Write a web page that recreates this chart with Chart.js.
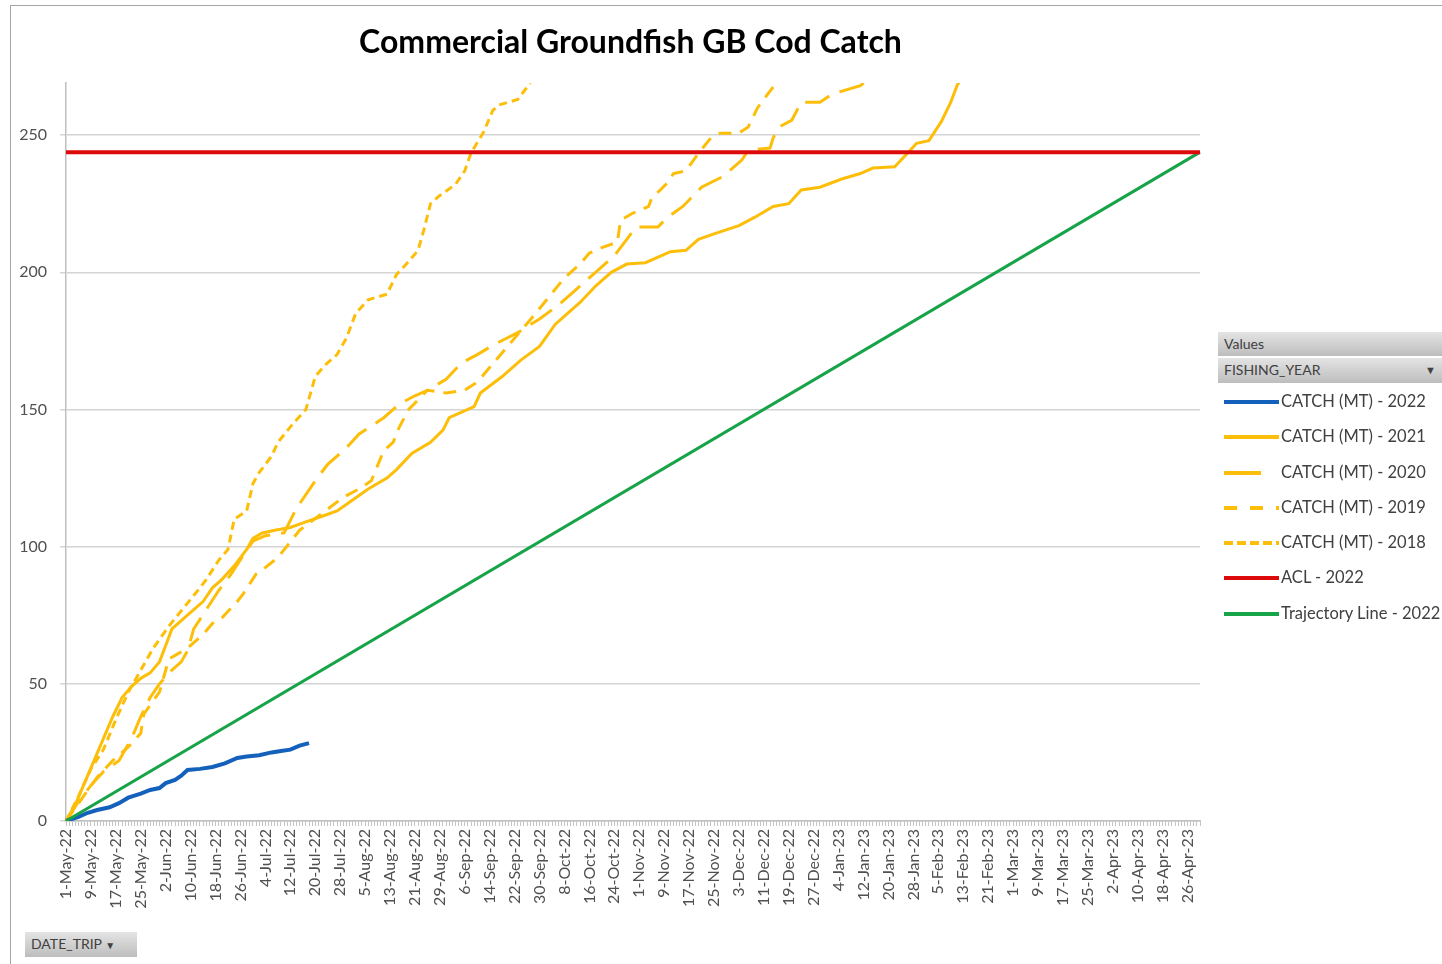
<!DOCTYPE html>
<html>
<head>
<meta charset="utf-8">
<script src="https://cdn.jsdelivr.net/npm/chart.js@4/dist/chart.umd.min.js"></script>
<style>
    html, body { margin: 0; padding: 0; width: 1442px; height: 964px; overflow: hidden; background: #fff; font-family: Lato, "Open Sans", sans-serif; }
    #frame { position: absolute; left: 10px; top: 5px; width: 1500px; height: 1000px; border-left: 1.5px solid #a6a6a6; border-top: 1.5px solid #a6a6a6; }
    #chartCanvas { position: absolute; left: 0; top: 0; }
    #title { position: absolute; left: 0; top: 21px; width: 1261px; text-align: center; font: bold 32px Lato, sans-serif; color: #000; }
    .pivotBar { position: absolute; background: linear-gradient(#e4e4e4, #bdbdbd); color: #404040; font-size: 14px; line-height: 24px; padding-left: 6px; box-sizing: border-box; }
    #legend { position: absolute; left: 1224px; top: 385px; }
    .legendItem { position: relative; height: 35.3px; white-space: nowrap; font-size: 16.5px; color: #404040; }
    .legendItem svg { position: absolute; left: 0; top: 13px; }
    .legendItem span { position: absolute; left: 57px; top: 6px; }
</style>
</head>
<body>
<div id="frame"></div>
<canvas id="chartCanvas" width="1442" height="964"></canvas>
<div id="title">Commercial Groundfish GB Cod Catch</div>
<div class="pivotBar" style="left:1218px; top:332px; width:224px; height:24px;">Values</div>
<div class="pivotBar" style="left:1218px; top:358px; width:224px; height:25px;">FISHING_YEAR
    <span style="position:absolute; right:6px; top:0; font-size:11px;">&#9660;</span>
</div>
<div class="pivotBar" style="left:25px; top:932px; width:112px; height:25px;">DATE_TRIP <span style="font-size:10px;">&#9660;</span></div>
<div id="legend"></div>

<script>
// Fishing year runs 1-May-22 to 30-Apr-23, one category per day.
const startYear = 2022;
const startMonth = 4; // May
const numberOfDays = 365;
const monthNames = ['Jan', 'Feb', 'Mar', 'Apr', 'May', 'Jun', 'Jul', 'Aug', 'Sep', 'Oct', 'Nov', 'Dec'];
const labelEvery = 8;

// y axis
const yMax = 269;
const yStep = 50;

// Cumulative catch (MT): day offset from 1-May and value.
const catch2022Days = [0, 4, 7, 10, 14, 17, 20, 24, 27, 30, 32, 35, 37, 39, 43, 47, 51, 55, 58, 62, 66, 69, 72, 75, 78];
const catch2022Values = [0, 1.5, 3, 4, 5, 6.5, 8.5, 10, 11.3, 12, 13.8, 15, 16.5, 18.6, 19, 19.7, 21, 23, 23.5, 24, 25, 25.5, 26, 27.5, 28.4];

const catch2021Days = [0, 3, 6, 9, 12, 15, 18, 21, 24, 27, 30, 32, 34, 37, 40, 44, 47, 50, 54, 58, 60, 63, 67, 72, 77, 82, 87, 92, 97, 103, 106, 111, 117, 121, 123, 127, 131, 133, 140, 146, 152, 157, 161, 165, 170, 175, 180, 186, 194, 199, 203, 208, 216, 221, 227, 232, 236, 242, 249, 255, 259, 266, 271, 273, 277, 281, 284, 286, 287];
const catch2021Values = [0, 6, 14, 22, 30, 38, 45, 49, 52, 54, 58, 64, 70, 73, 76, 80, 85, 88, 93, 99, 103, 105, 106, 107, 109, 111, 113, 117, 121, 125, 128, 134, 138, 142.5, 147, 149, 151, 156, 162, 168, 173, 181, 185, 189, 195, 200, 203, 203.5, 207.5, 208, 212, 214, 217, 220, 224, 225, 230, 231, 234, 236, 238, 238.5, 244.5, 247, 248, 255, 262, 268, 270];

const catch2020Days = [0, 4, 8, 12, 17, 21, 24, 27, 30, 34, 37, 39, 41, 45, 49, 53, 57, 60, 64, 70, 74, 80, 84, 90, 94, 102, 107, 112, 116, 122, 127, 132, 138, 145, 152, 158, 164, 170, 176, 183, 190, 193, 198, 204, 211, 217, 219, 226, 227, 229, 233, 236, 242, 246, 255, 257];
const catch2020Values = [0, 7, 13, 18, 22, 30, 38, 45, 50, 55, 58, 62, 70, 77, 84, 90, 97, 102, 104, 105, 114, 124, 130, 136, 141, 147, 152, 155, 157, 161, 167, 170, 174, 178, 183, 188, 194, 200, 206, 216.5, 216.5, 220, 224, 231, 235, 241, 244.5, 245.3, 249, 253, 255.5, 262, 262, 265, 268, 270];

const catch2019Days = [0, 5, 10, 15, 20, 24, 25, 30, 33, 36, 39, 41, 44, 47, 50, 55, 57, 61, 63, 68, 75, 82, 89, 94, 98, 102, 105, 107, 110, 116, 122, 128, 132, 138, 144, 150, 155, 160, 165, 168, 172, 177, 178, 182, 187, 188, 193, 195, 199, 203, 207, 210, 216, 219, 222, 225, 228];
const catch2019Values = [0, 8, 16, 22, 27, 32, 39, 47, 59, 61, 63, 65, 68, 72, 74, 80, 83, 90, 91.5, 96, 106, 112, 118, 121, 124, 135, 138, 143.6, 150, 157, 156, 157, 160, 168, 176, 184, 191, 198, 203, 207, 209, 211, 219, 221.6, 224, 227, 232.5, 236, 237, 243.4, 249, 250.7, 250.7, 253, 260, 264.6, 269];

const catch2018Days = [0, 4, 8, 12, 16, 20, 24, 28, 33, 38, 43, 45, 49, 52, 54, 58, 60, 62, 66, 68, 73, 77, 80, 83, 87, 90, 93, 97, 103, 106, 110, 113, 115, 117, 120, 125, 128, 130, 134, 137, 139, 145, 147, 149];
const catch2018Values = [0, 9, 19, 26, 37, 47, 55, 63, 71, 78, 85, 88, 95, 99, 110, 113, 123, 127, 133, 138, 145, 150, 162, 166, 170, 176, 185, 190, 192, 199, 204, 208, 216, 225, 228, 232, 237, 243.5, 251, 259, 261, 263, 266, 269];

// ACL and straight trajectory to the ACL over the year.
const aclDays = [0, 364];
const aclValues = [243.8, 243.8];
const trajectoryDays = [0, 364];
const trajectoryValues = [0, 243.8];

const axisFont = { family: 'Lato', size: 16 };
const axisTextColor = '#505050';

function buildDayLabels() {
    var labels = [];
    for (let i = 0; i < numberOfDays; i++) {
        var d = new Date(Date.UTC(startYear, startMonth, 1 + i));
        var yy = String(d.getUTCFullYear()).slice(2);
        labels.push(d.getUTCDate() + '-' + monthNames[d.getUTCMonth()] + '-' + yy);
    }
    return labels;
}

function toPoints(labels, days, values) {
    var points = [];
    for (let i = 0; i < days.length; i++) {
        points.push({ x: labels[days[i]], y: values[i] });
    }
    return points;
}

function buildLegend(chart) {
    var legendDiv = document.getElementById('legend');

    chart.data.datasets.forEach(function (dataSet) {
        var item = document.createElement('div');
        item.className = 'legendItem';

        var dash = dataSet.legendDash ? dataSet.legendDash.join(' ') : 'none';
        item.innerHTML =
            '<svg width="56" height="8"><line x1="0" y1="4" x2="55" y2="4" stroke="' + dataSet.borderColor +
            '" stroke-width="4" stroke-dasharray="' + dash + '"/></svg>' +
            '<span>' + dataSet.label + '</span>';

        legendDiv.appendChild(item);
    });
}

function GenerateLineChart() {
    var dayLabels = buildDayLabels();
    var chartControl = document.getElementById('chartCanvas');

    var lineChart = new Chart(chartControl, {
        type: 'line',
        data: {
            labels: dayLabels,
            datasets: [
                {
                    label: 'CATCH (MT) - 2022',
                    data: toPoints(dayLabels, catch2022Days, catch2022Values),
                    borderColor: '#1461BC',
                    borderWidth: 4,
                    order: 2
                },
                {
                    label: 'CATCH (MT) - 2021',
                    data: toPoints(dayLabels, catch2021Days, catch2021Values),
                    borderColor: '#FDBE0A',
                    borderWidth: 3,
                    order: 3
                },
                {
                    label: 'CATCH (MT) - 2020',
                    data: toPoints(dayLabels, catch2020Days, catch2020Values),
                    borderColor: '#FDBE0A',
                    borderWidth: 3,
                    borderDash: [26, 11],
                    legendDash: [37, 19],
                    order: 3
                },
                {
                    label: 'CATCH (MT) - 2019',
                    data: toPoints(dayLabels, catch2019Days, catch2019Values),
                    borderColor: '#FDBE0A',
                    borderWidth: 3,
                    borderDash: [13, 9],
                    legendDash: [13, 13],
                    order: 3
                },
                {
                    label: 'CATCH (MT) - 2018',
                    data: toPoints(dayLabels, catch2018Days, catch2018Values),
                    borderColor: '#FDBE0A',
                    borderWidth: 3,
                    borderDash: [8, 5],
                    legendDash: [9, 4],
                    order: 3
                },
                {
                    label: 'ACL - 2022',
                    data: toPoints(dayLabels, aclDays, aclValues),
                    borderColor: '#DC0A0A',
                    borderWidth: 4,
                    order: 0
                },
                {
                    label: 'Trajectory Line - 2022',
                    data: toPoints(dayLabels, trajectoryDays, trajectoryValues),
                    borderColor: '#17A348',
                    borderWidth: 3,
                    order: 1
                }
            ]
        },
        options: {
            responsive: false,
            animation: false,
            elements: {
                point: { radius: 0 },
                line: { tension: 0, borderCapStyle: 'butt' }
            },
            layout: {
                padding: { top: 83, right: 242, bottom: 0, left: 0 }
            },
            plugins: {
                legend: { display: false },
                tooltip: { enabled: false },
                title: { display: false }
            },
            scales: {
                x: {
                    type: 'category',
                    offset: false,
                    grid: {
                        drawOnChartArea: false,
                        drawTicks: true,
                        tickLength: 5,
                        color: '#c4c4c4',
                        lineWidth: 1
                    },
                    border: { color: '#bfbfbf', width: 1.5 },
                    ticks: {
                        autoSkip: false,
                        minRotation: 90,
                        maxRotation: 90,
                        padding: 3,
                        font: axisFont,
                        color: axisTextColor,
                        callback: function (value, index) {
                            //Only every eighth day gets a label, but every day keeps its tick mark.
                            return index % labelEvery === 0 ? this.getLabelForValue(value) : '';
                        }
                    },
                    afterFit: function (scale) {
                        scale.height = 143;
                    }
                },
                y: {
                    min: 0,
                    max: yMax,
                    grid: {
                        color: '#d4d4d4',
                        lineWidth: 1.5,
                        tickLength: 6
                    },
                    border: { color: '#bfbfbf', width: 1.5 },
                    ticks: {
                        stepSize: yStep,
                        includeBounds: false,
                        padding: 13,
                        font: axisFont,
                        color: axisTextColor
                    },
                    afterFit: function (scale) {
                        scale.width = 66;
                    }
                }
            }
        }
    });

    buildLegend(lineChart);
}

GenerateLineChart();
</script>
</body>
</html>
